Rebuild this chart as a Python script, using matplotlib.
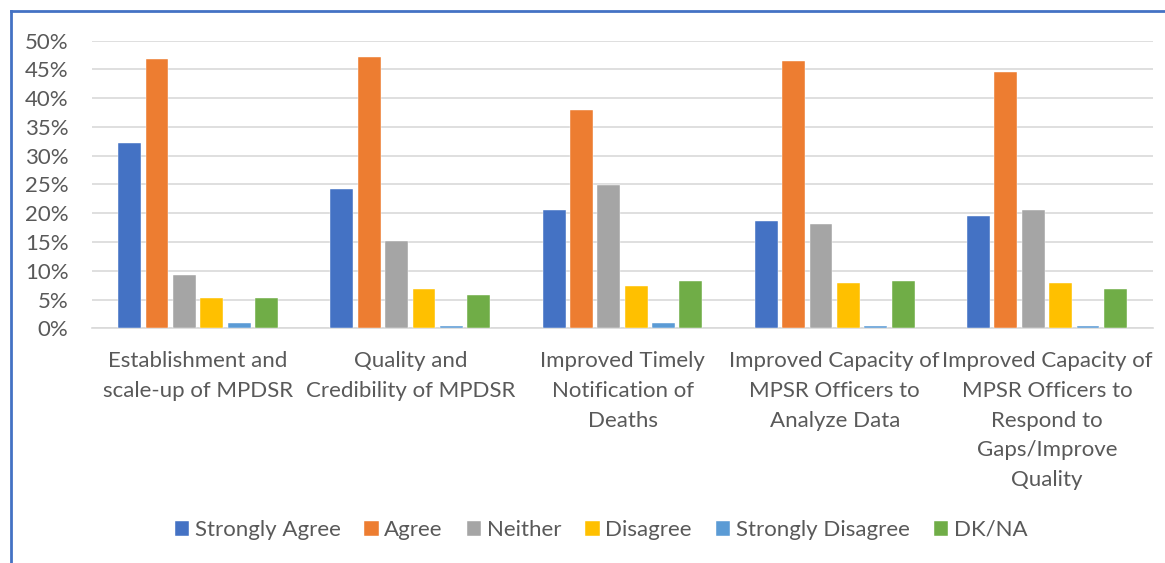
import matplotlib
matplotlib.use("Agg")
import matplotlib.pyplot as plt
import numpy as np
from matplotlib.lines import Line2D

categories = [
    "Establishment and\nscale-up of MPDSR",
    "Quality and\nCredibility of MPDSR",
    "Improved Timely\nNotification of\nDeaths",
    "Improved Capacity of\nMPSR Officers to\nAnalyze Data",
    "Improved Capacity of\nMPSR Officers to\nRespond to\nGaps/Improve\nQuality",
]
series_names = ["Strongly Agree", "Agree", "Neither", "Disagree", "Strongly Disagree", "DK/NA"]
strongly_agree = [32.2, 24.3, 20.5, 18.6, 19.5]
agree = [46.8, 47.2, 38.0, 46.5, 44.6]
neither = [9.2, 15.1, 24.9, 18.1, 20.5]
disagree = [5.3, 6.8, 7.3, 7.8, 7.8]
strongly_disagree = [0.9, 0.45, 0.9, 0.45, 0.45]
dk_na = [5.3, 5.8, 8.2, 8.2, 6.8]
yticks = [0, 5, 10, 15, 20, 25, 30, 35, 40, 45, 50]

colors = ["#4472C4", "#ED7D31", "#A5A5A5", "#FFC000", "#5B9BD5", "#70AD47"]
values = [strongly_agree, agree, neither, disagree, strongly_disagree, dk_na]

plt.rcParams["font.family"] = ["Lato", "DejaVu Sans"]
text_color = "#595959"

fig = plt.figure(figsize=(11.65, 5.63), dpi=100)
ax = fig.add_axes([92 / 1165, 1 - 328.3 / 563, (1153 - 92) / 1165, (328.3 - 40.7) / 563])

x = np.arange(len(categories))
slot = 0.129
width = 0.108
for i, (name, vals, c) in enumerate(zip(series_names, values, colors)):
    offs = (i - 2.5) * slot
    ax.bar(x + offs, vals, width=width, color=c, edgecolor="white", linewidth=0.3,
           label=name, zorder=3)

ax.set_xlim(-0.5, len(categories) - 0.5)
ax.set_ylim(0, 50)
ax.set_yticks(yticks)
ax.set_yticklabels([f"{t}%" for t in yticks])
ax.set_xticks(x)
ax.set_xticklabels(categories, linespacing=1.61)
ax.tick_params(axis="both", length=0, labelsize=16, labelcolor=text_color)
ax.tick_params(axis="y", pad=17)
ax.tick_params(axis="x", pad=16.5)
ax.grid(axis="y", color="#D9D9D9", linewidth=1.2, zorder=0)
for s in ["top", "right", "left"]:
    ax.spines[s].set_visible(False)
ax.spines["bottom"].set_color("#D9D9D9")
ax.spines["bottom"].set_linewidth(1.2)

handles, labels = ax.get_legend_handles_labels()
leg = fig.legend(handles, labels, loc="center", bbox_to_anchor=(601 / 1165, 1 - 530 / 563),
                 ncol=6, frameon=False, fontsize=16, handlelength=0.65, handleheight=0.65,
                 handletextpad=0.25, columnspacing=1.08, borderaxespad=0)
for t in leg.get_texts():
    t.set_color(text_color)

# figure border (left and top visible)
fig.add_artist(Line2D([10.5 / 1165, 10.5 / 1165], [0, 1 - 11 / 563], transform=fig.transFigure,
                      color="#4472C4", linewidth=2))
fig.add_artist(Line2D([10.5 / 1165, 1], [1 - 11 / 563, 1 - 11 / 563], transform=fig.transFigure,
                      color="#4472C4", linewidth=2))

fig.savefig("out.png", dpi=100)
